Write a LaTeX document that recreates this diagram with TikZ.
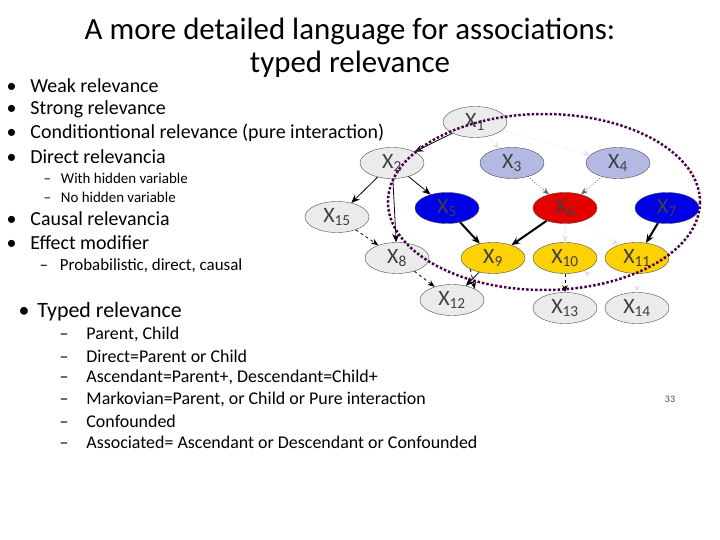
\documentclass[tikz,border=0pt]{standalone}
\usepackage{fontspec}
\setmainfont{Carlito}
\usetikzlibrary{arrows.meta, shapes.geometric}

\begin{document}
\begin{tikzpicture}[x=1bp, y=-1bp,
    var/.style={draw=black!70, ellipse, minimum width=64bp, minimum height=31bp, inner sep=0pt, text=black!75, font=\fontsize{22}{22}\selectfont},
    grey/.style={var, fill=black!8},
    sky/.style={var, fill=cyan!30!blue!30!white},
    navy/.style={var, fill=blue!90!black},
    redv/.style={var, fill=red!90!black},
    gold/.style={var, fill=yellow!70!orange},
    strong/.style={-{Stealth[length=3mm, width=2.5mm]}, line width=1.2pt},
    weak/.style={-{Stealth[length=2.5mm, width=2mm]}, thick, black!12, dotted},
    mid/.style={-{Stealth[length=2.5mm, width=2mm]}, thick, black!60, dotted},
    dashlink/.style={-{Stealth[length=2.5mm, width=2mm]}, thick, dashed},
    item/.style={anchor=west, font=\fontsize{20}{20}\selectfont},
    sub/.style={anchor=west, font=\fontsize{15}{15}\selectfont}]
    \useasboundingbox (0,0) rectangle (720,540);
    % Title
    \node[font=\fontsize{31}{33}\selectfont, align=center] (title) at (350,48) {A more detailed language for associations:\\typed relevance};
    % Bullets
    \node[item] (b1) at (3,86) {•\hspace{14bp}Weak relevance};
    \node[item] (b2) at (3,109) {•\hspace{14bp}Strong relevance};
    \node[item] (b3) at (3,133) {•\hspace{14bp}Conditiontional relevance (pure interaction)};
    \node[item] (b4) at (3,157) {•\hspace{14bp}Direct relevancia};
    \node[sub] (s1) at (40,178) {–\hspace{10bp}With hidden variable};
    \node[sub] (s2) at (40,197) {–\hspace{10bp}No hidden variable};
    \node[item] (b5) at (3,219) {•\hspace{14bp}Causal relevancia};
    \node[item] (b6) at (3,243) {•\hspace{14bp}Effect modifier};
    \node[item, font=\fontsize{17}{17}\selectfont] (s3) at (36,266) {–\hspace{12bp}Probabilistic, direct, causal};
    \node[item, font=\fontsize{22}{22}\selectfont] (b7) at (15,312) {•\hspace{8bp}Typed relevance};
    \foreach \t [count=\i] in {Parent{,} Child, Direct=Parent or Child, Ascendant=Parent+{,} Descendant=Child+, Markovian=Parent{,} or Child or Pure interaction, Confounded, Associated= Ascendant or Descendant or Confounded}
        \node[item, font=\fontsize{18}{18}\selectfont] (t\i) at (56,313+21.6*\i) {–\hspace{18bp}\t};
    \node[font=\fontsize{10}{10}\selectfont, text=black!70] (page) at (670,399) {33};
    % Variables
    \node[grey] (x1) at (475,122) {X\textsubscript{1}};
    \node[grey] (x2) at (392,163) {X\textsubscript{2}};
    \node[sky] (x3) at (512,163) {X\textsubscript{3}};
    \node[sky] (x4) at (618,163) {X\textsubscript{4}};
    \node[grey] (x15) at (337,217) {X\textsubscript{15}};
    \node[navy] (x5) at (447,208) {X\textsubscript{5}};
    \node[redv] (x6) at (565,208) {X\textsubscript{6}};
    \node[navy] (x7) at (667,208) {X\textsubscript{7}};
    \node[grey] (x8) at (397,258) {X\textsubscript{8}};
    \node[gold] (x9) at (493,258) {X\textsubscript{9}};
    \node[gold] (x10) at (565,258) {X\textsubscript{10}};
    \node[gold] (x11) at (637,258) {X\textsubscript{11}};
    \node[grey] (x12) at (452,300) {X\textsubscript{12}};
    \node[grey] (x13) at (565,308) {X\textsubscript{13}};
    \node[grey] (x14) at (637,308) {X\textsubscript{14}};
    % Edges
    \draw[strong, thick] (x1) -- (x2);
    \draw[strong, thick] (x2) -- (x15);
    \draw[strong, thick] (x2) -- (x8);
    \draw[strong, thick] (x2) -- (x5);
    \draw[strong, line width=2pt] (x5) -- (x9);
    \draw[strong, line width=2pt] (x6) -- (x9);
    \draw[strong, line width=2pt] (x7) -- (x11);
    \draw[strong, thick] (x9) -- (x12);
    \draw[dashlink] (x15) -- (x8);
    \draw[dashlink] (x8) -- (x12);
    \draw[dashlink] (x9.south west) -- (x12.north east);
    \draw[dashlink] (x10) -- (x13);
    \draw[weak] (x1) -- (x3);
    \draw[weak] (x1) -- (x4);
    \draw[mid] (x3) -- (x6);
    \draw[mid] (x4) -- (x6);
    \draw[weak] (x6) -- (x10);
    \draw[weak] (x6) -- (x11);
    \draw[weak] (x14) -- (x10);
    \draw[weak] (x11) -- (x14);
    % Markov blanket
    \draw[violet!60!black, line width=2.5pt, dotted] (544,202) ellipse (156 and 88);
\end{tikzpicture}
\end{document}
